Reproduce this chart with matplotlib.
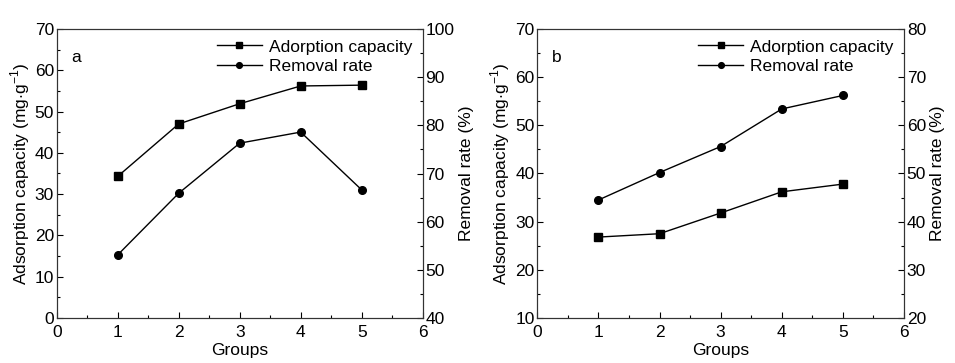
import matplotlib
matplotlib.use("Agg")
import matplotlib.pyplot as plt
from matplotlib.ticker import MultipleLocator

plt.rcParams['font.family'] = ['Liberation Sans', 'DejaVu Sans']
plt.rcParams['mathtext.fontset'] = 'custom'
plt.rcParams['mathtext.rm'] = 'Liberation Sans'

groups = [1, 2, 3, 4, 5]
cap_a = [34.3, 47.0, 51.9, 56.2, 56.4]
rate_a = [53.1, 65.9, 76.3, 78.6, 66.6]
cap_b = [26.8, 27.5, 31.8, 36.2, 37.8]
rate_b = [44.5, 50.2, 55.6, 63.4, 66.2]
panel_labels = ['a', 'b']
left_lims = [(0, 70), (10, 70)]
right_lims = [(40, 100), (20, 80)]

fig = plt.figure(figsize=(9.55, 3.63), dpi=100)
W, H = 955, 363
boxes = [(56.7, 29, 422.7, 318), (537.3, 29, 904, 318)]

fs = 12.5
for i, (cap, rate) in enumerate([(cap_a, rate_a), (cap_b, rate_b)]):
    x0, y0, x1, y1 = boxes[i]
    ax = fig.add_axes([x0 / W, 1 - y1 / H, (x1 - x0) / W, (y1 - y0) / H])
    ax2 = ax.twinx()
    l1, = ax.plot(groups, cap, color='black', marker='s', markersize=5.5, lw=1, label='Adorption capacity')
    l2, = ax2.plot(groups, rate, color='black', marker='o', markersize=5.5, lw=1, label='Removal rate')
    ax.set_xlim(0, 6)
    ax.set_ylim(*left_lims[i])
    ax2.set_ylim(*right_lims[i])
    ax.xaxis.set_major_locator(MultipleLocator(1))
    ax.xaxis.set_minor_locator(MultipleLocator(0.5))
    ax.yaxis.set_major_locator(MultipleLocator(10))
    ax.yaxis.set_minor_locator(MultipleLocator(5))
    ax2.yaxis.set_major_locator(MultipleLocator(10))
    ax2.yaxis.set_minor_locator(MultipleLocator(5))
    for a in (ax, ax2):
        a.tick_params(which='both', direction='in', labelsize=fs, colors='black', width=0.8, pad=2)
        a.tick_params(which='major', length=4)
        a.tick_params(which='minor', length=2.5)
        for s in a.spines.values():
            s.set_linewidth(0.8)
            s.set_color('#333333')
    ax.tick_params(axis='x', pad=5)
    ax.set_xlabel('Groups', fontsize=fs, labelpad=2)
    ax.set_ylabel('Adsorption capacity (mg$\\cdot$g$^{-1}$)', fontsize=fs, labelpad=2)
    ax2.set_ylabel('Removal rate (%)', fontsize=fs, labelpad=3)
    ax.text(0.04, 0.9, panel_labels[i], transform=ax.transAxes, fontsize=fs, va='center')
    ax.legend([l1, l2], ['Adorption capacity', 'Removal rate'], loc='upper right', frameon=False,
              fontsize=fs, handlelength=2.6, handletextpad=0.4, borderaxespad=0.2,
              labelspacing=0.25, markerscale=0.75, bbox_to_anchor=(1.0, 1.0))

fig.savefig('out.png', dpi=100)
